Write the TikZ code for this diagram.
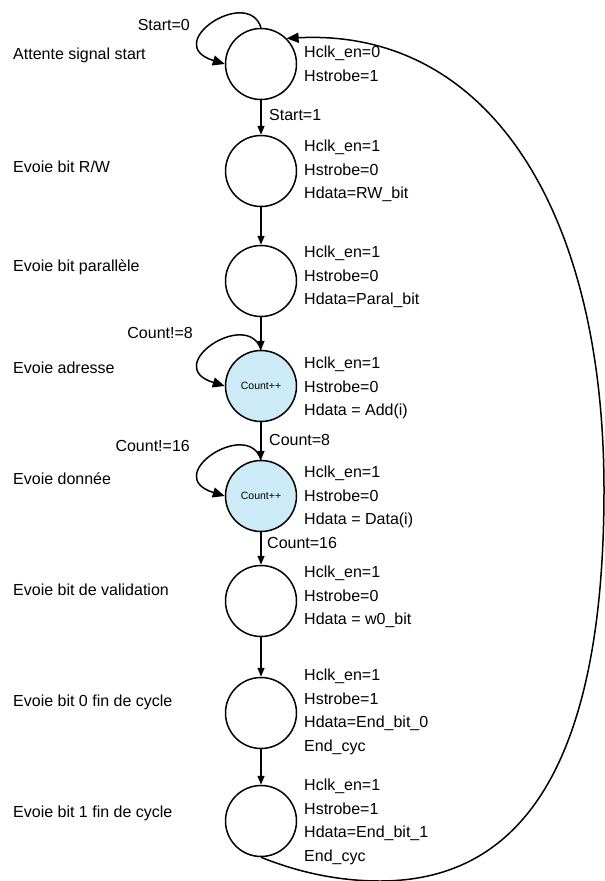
\documentclass[tikz,border=0pt]{standalone}
\usepackage{fontspec}
\setmainfont{Liberation Sans}
\usetikzlibrary{arrows.meta}
\definecolor{countblue}{RGB}{205,235,246}

\begin{document}
\begin{tikzpicture}[x=1pt,y=-1pt,
  font={\fontsize{16}{23.5}\selectfont},
  state/.style={circle,draw,line width=1.5pt,minimum size=71pt,inner sep=0pt},
  countstate/.style={state,fill=countblue,font={\fontsize{10.5}{12}\selectfont}},
  outputs/.style={anchor=west,align=left,inner sep=0pt},
  stname/.style={anchor=west,inner sep=0pt},
  cond/.style={inner sep=0pt},
  trans/.style={line width=1.5pt,-{Triangle[length=9pt,width=7pt]}},
  selfloop/.style={line width=1.5pt,-{Triangle[length=12pt,width=10pt]}}]
\useasboundingbox (0,0) rectangle (605,881);
% etats
\node[state] (c1) at (261,64) {}; \node[stname] (n1) at (13,55) {Attente signal start};
\node[outputs] (o1) at (304,64) {Hclk\_en=0\\Hstrobe=1};
\node[state] (c2) at (261,171) {}; \node[stname] (n2) at (13,167) {Evoie bit R/W};
\node[outputs] (o2) at (304,171) {Hclk\_en=1\\Hstrobe=0\\Hdata=RW\_bit};
\node[state] (c3) at (261,281) {}; \node[stname] (n3) at (13,267) {Evoie bit parallèle};
\node[outputs] (o3) at (304,277) {Hclk\_en=1\\Hstrobe=0\\Hdata=Paral\_bit};
\node[countstate] (c4) at (261,386) {Count++}; \node[stname] (n4) at (13,368) {Evoie adresse};
\node[outputs] (o4) at (304,388) {Hclk\_en=1\\Hstrobe=0\\Hdata = Add(i)};
\node[countstate] (c5) at (261,496) {Count++}; \node[stname] (n5) at (13,479) {Evoie donnée};
\node[outputs] (o5) at (304,497) {Hclk\_en=1\\Hstrobe=0\\Hdata = Data(i)};
\node[state] (c6) at (261,601) {}; \node[stname] (n6) at (13,590) {Evoie bit de validation};
\node[outputs] (o6) at (304,597) {Hclk\_en=1\\Hstrobe=0\\Hdata = w0\_bit};
\node[state] (c7) at (261,713) {}; \node[stname] (n7) at (13,702) {Evoie bit 0 fin de cycle};
\node[outputs] (o7) at (304,712) {Hclk\_en=1\\Hstrobe=1\\Hdata=End\_bit\_0\\End\_cyc};
\node[state] (c8) at (261,821) {}; \node[stname] (n8) at (13,813) {Evoie bit 1 fin de cycle};
\node[outputs] (o8) at (304,822) {Hclk\_en=1\\Hstrobe=1\\Hdata=End\_bit\_1\\End\_cyc};
% transitions
\draw[trans] (c1) -- (c2); \draw[trans] (c2) -- (c3); \draw[trans] (c3) -- (c4);
\draw[trans] (c4) -- (c5); \draw[trans] (c5) -- (c6); \draw[trans] (c6) -- (c7);
\draw[trans] (c7) -- (c8);
\node[cond,anchor=west] (s1) at (269,115) {Start=1};
\node[cond,anchor=west] (k8) at (269,440) {Count=8};
\node[cond,anchor=west] (k16) at (267,543) {Count=16};
% boucles
\draw[selfloop] (c1.north) .. controls +(-13,-42) and +(-65,-20) .. (c1.west);
\draw[selfloop] (c4.north) .. controls +(-13,-42) and +(-65,-20) .. (c4.west);
\draw[selfloop] (c5.north) .. controls +(-13,-42) and +(-65,-20) .. (c5.west);
\node[cond,anchor=east] (s0) at (190,25) {Start=0};
\node[cond,anchor=east] (k8n) at (193,333) {Count!=8};
\node[cond,anchor=east] (k16n) at (190,446) {Count!=16};
% retour
\draw[selfloop] (c8.south) .. controls (300,873) and (340,881) .. (380,881)
  .. controls (530,881) and (604,750) .. (604,490)
  .. controls (604,210) and (488,28) .. (c1.45);
\end{tikzpicture}
\end{document}
